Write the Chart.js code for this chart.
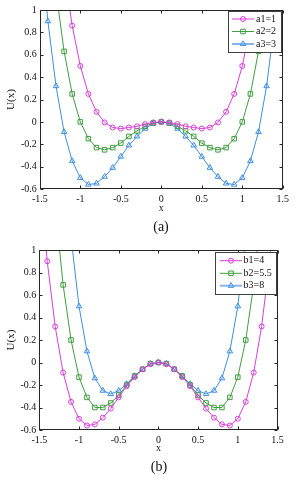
<!DOCTYPE html>
<html>
<head>
<meta charset="utf-8">
<script src="https://cdn.jsdelivr.net/npm/chart.js"></script>
<style>
  body { margin: 0; background: #fff; width: 297px; height: 480px; position: relative; overflow: hidden; font-family: "Liberation Serif", serif; }
  canvas { position: absolute; left: 0; }
  .cap { position: absolute; width: 60px; text-align: center; font-size: 14px; line-height: 16px; color: #111; }
</style>
</head>
<body>
<canvas id="chartA" width="297" height="240" style="top:0"></canvas>
<canvas id="chartB" width="297" height="240" style="top:240px"></canvas>
<div class="cap" style="left:131px; top:219px">(a)</div>
<div class="cap" style="left:129px; top:459px">(b)</div>
<script>
// x positions of the markers, tick values
const xs = [-1.5, -1.4, -1.3, -1.2, -1.1, -1.0, -0.9, -0.8, -0.7, -0.6, -0.5, -0.4, -0.3, -0.2, -0.1, 0,
            0.1, 0.2, 0.3, 0.4, 0.5, 0.6, 0.7, 0.8, 0.9, 1.0, 1.1, 1.2, 1.3, 1.4, 1.5];
const xTicks = [-1.5, -1, -0.5, 0, 0.5, 1, 1.5];
const yTicks = [-0.6, -0.4, -0.2, 0, 0.2, 0.4, 0.6, 0.8, 1];

// panel (a)
const a1 = [3.94, 2.86, 2.01, 1.35, 0.86, 0.5, 0.25, 0.09, -0.005, -0.05, -0.06, -0.05, -0.04, -0.02, -0.005, 0,
            -0.005, -0.02, -0.04, -0.05, -0.06, -0.05, -0.005, 0.09, 0.25, 0.5, 0.86, 1.35, 2.01, 2.86, 3.94];
const a2 = [2.81, 1.88, 1.17, 0.63, 0.25, 0, -0.15, -0.23, -0.25, -0.23, -0.19, -0.13, -0.08, -0.04, -0.01, 0,
            -0.01, -0.04, -0.08, -0.13, -0.19, -0.23, -0.25, -0.23, -0.15, 0, 0.25, 0.63, 1.17, 1.88, 2.81];
const a3 = [1.69, 0.90, 0.32, -0.09, -0.35, -0.5, -0.56, -0.55, -0.49, -0.41, -0.31, -0.21, -0.13, -0.06, -0.015, 0,
            -0.015, -0.06, -0.13, -0.21, -0.31, -0.41, -0.49, -0.55, -0.56, -0.5, -0.35, -0.09, 0.32, 0.90, 1.69];

// panel (b)
const b1 = [1.69, 0.90, 0.32, -0.09, -0.35, -0.5, -0.56, -0.55, -0.49, -0.41, -0.31, -0.21, -0.13, -0.06, -0.015, 0,
            -0.015, -0.06, -0.13, -0.21, -0.31, -0.41, -0.49, -0.55, -0.56, -0.5, -0.35, -0.09, 0.32, 0.90, 1.69];
const b2 = [3.59, 2.34, 1.39, 0.69, 0.20, -0.13, -0.31, -0.40, -0.40, -0.36, -0.29, -0.20, -0.12, -0.06, -0.01, 0,
            -0.01, -0.06, -0.12, -0.20, -0.29, -0.36, -0.40, -0.40, -0.31, -0.13, 0.20, 0.69, 1.39, 2.34, 3.59];
const b3 = [6.75, 4.74, 3.18, 1.99, 1.11, 0.5, 0.10, -0.14, -0.25, -0.28, -0.25, -0.19, -0.12, -0.06, -0.01, 0,
            -0.01, -0.06, -0.12, -0.19, -0.25, -0.28, -0.25, -0.14, 0.10, 0.5, 1.11, 1.99, 3.18, 4.74, 6.75];

const labelsA = ['a1=1', 'a2=2', 'a3=3'];
const labelsB = ['b1=4', 'b2=5.5', 'b3=8'];

const MAGENTA = '#d83ed8';
const GREEN = '#3f9e3f';
const BLUE = '#3f8fe0';
const SERIF = '"Liberation Serif", "Times New Roman", serif';

// MATLAB-like box with inward ticks on all sides
const framePlugin = {
    id: 'frame',
    afterDraw(chart) {
        const { ctx, chartArea: a, scales: { x, y } } = chart;
        const L = Math.round(a.left) + 0.5, R = Math.round(a.right) - 0.5;
        const T = Math.round(a.top) + 0.5, B = Math.round(a.bottom) - 0.5;
        const len = 3;
        ctx.save();
        ctx.strokeStyle = '#262626';
        ctx.lineWidth = 1;
        ctx.strokeRect(L, T, R - L, B - T);
        ctx.beginPath();
        xTicks.forEach(v => {
            const px = Math.round(x.getPixelForValue(v)) + 0.5;
            ctx.moveTo(px, B); ctx.lineTo(px, B - len);
            ctx.moveTo(px, T); ctx.lineTo(px, T + len);
        });
        yTicks.forEach(v => {
            const py = Math.round(y.getPixelForValue(v)) + 0.5;
            ctx.moveTo(L, py); ctx.lineTo(L + len, py);
            ctx.moveTo(R, py); ctx.lineTo(R - len, py);
        });
        ctx.stroke();
        ctx.restore();
    }
};

// legend with line + marker samples inside a bordered box
const boxLegendPlugin = {
    id: 'boxLegend',
    afterDraw(chart, args, opts) {
        const ctx = chart.ctx;
        const b = opts.box;
        ctx.save();
        ctx.fillStyle = '#fff';
        ctx.fillRect(b.x, b.y, b.w, b.h);
        ctx.strokeStyle = '#404040';
        ctx.lineWidth = 1;
        ctx.strokeRect(b.x + 0.5, b.y + 0.5, b.w, b.h);
        chart.data.datasets.forEach((ds, i) => {
            const ry = opts.rows[i];
            ctx.beginPath();
            ctx.strokeStyle = i === 2 ? '#86b6ec' : ds.borderColor;
            ctx.lineWidth = i === 2 ? 2 : 1;
            ctx.moveTo(opts.lineFrom, ry);
            ctx.lineTo(opts.lineTo, ry);
            ctx.stroke();
            ctx.strokeStyle = ds.borderColor;
            ctx.fillStyle = 'rgba(0,0,0,0)';
            ctx.lineWidth = 1;
            Chart.helpers.drawPoint(ctx, {
                pointStyle: ds.pointStyle, rotation: 0, radius: ds.pointRadius, borderWidth: 1
            }, (opts.lineFrom + opts.lineTo) / 2, ry);
            ctx.fillStyle = '#111';
            ctx.font = '10px ' + SERIF;
            ctx.textBaseline = 'middle';
            ctx.textAlign = 'left';
            ctx.fillText(ds.label, opts.textX, ry);
        });
        ctx.restore();
    }
};

function makeSeries(label, values, color, style, radius) {
    return {
        label: label,
        data: xs.map((x, i) => ({ x: x, y: values[i] })),
        borderColor: color,
        borderWidth: 1,
        pointStyle: style,
        pointRadius: radius,
        pointBorderColor: color,
        pointBackgroundColor: 'rgba(0,0,0,0)',
        pointBorderWidth: 1,
        tension: 0
    };
}

function makeChart(canvasId, datasets, area, legendOpts) {
    return new Chart(document.getElementById(canvasId), {
        type: 'line',
        data: { datasets: datasets },
        options: {
            responsive: false,
            animation: false,
            layout: { padding: { top: area.top, right: area.right, left: 0, bottom: 0 } },
            plugins: {
                legend: { display: false },
                tooltip: { enabled: false },
                boxLegend: legendOpts
            },
            scales: {
                x: {
                    type: 'linear',
                    min: -1.5,
                    max: 1.5,
                    grid: { display: false, drawTicks: false },
                    border: { display: false },
                    afterBuildTicks: s => { s.ticks = xTicks.map(v => ({ value: v })); },
                    afterFit: s => { s.height = area.axisHeight; s.paddingLeft = 0; s.paddingRight = 0; },
                    ticks: {
                        autoSkip: false, maxRotation: 0, padding: 4, color: '#111',
                        font: { family: SERIF, size: 10 },
                        callback: v => String(v)
                    },
                    title: {
                        display: true, text: 'x', color: '#111',
                        font: { family: SERIF, size: 10 },
                        padding: { top: 0, bottom: 26 }
                    }
                },
                y: {
                    min: -0.6,
                    max: 1,
                    grid: { display: false, drawTicks: false },
                    border: { display: false },
                    afterBuildTicks: s => { s.ticks = yTicks.map(v => ({ value: v })); },
                    afterFit: s => { s.width = area.left; s.paddingTop = 0; s.paddingBottom = 0; },
                    ticks: {
                        autoSkip: false, padding: 3, color: '#111',
                        font: { family: SERIF, size: 10 },
                        callback: v => String(v)
                    },
                    title: {
                        display: true, text: 'U(x)', color: '#111',
                        font: { family: SERIF, size: 11 },
                        padding: { top: 5, bottom: 0 }
                    }
                }
            }
        },
        plugins: [framePlugin, boxLegendPlugin]
    });
}

makeChart('chartA', [
    makeSeries(labelsA[0], a1, MAGENTA, 'circle', 2.5),
    makeSeries(labelsA[1], a2, GREEN, 'rect', 3.2),
    makeSeries(labelsA[2], a3, BLUE, 'triangle', 3.2)
], { top: 10, right: 14.2, left: 39.8, axisHeight: 51 }, {
    box: { x: 228, y: 11, w: 53, h: 41 },
    rows: [19, 31.5, 44],
    lineFrom: 232, lineTo: 254, textX: 256
});

makeChart('chartB', [
    makeSeries(labelsB[0], b1, MAGENTA, 'circle', 2.5),
    makeSeries(labelsB[1], b2, GREEN, 'rect', 3.2),
    makeSeries(labelsB[2], b3, BLUE, 'triangle', 3.2)
], { top: 10, right: 19.5, left: 39.3, axisHeight: 50 }, {
    box: { x: 215, y: 12, w: 61, h: 42 },
    rows: [20.7, 33.3, 45.7],
    lineFrom: 220, lineTo: 242, textX: 243.5
});
</script>
</body>
</html>
